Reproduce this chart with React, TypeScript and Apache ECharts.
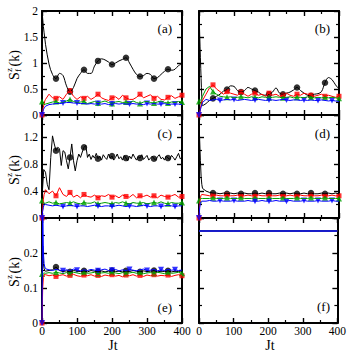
import React, { useEffect, useRef } from 'react';
import * as echarts from 'echarts';

const FONT = 'Liberation Serif, DejaVu Serif, serif';

// time samples
const T = [0, 2, 4, 6, 8, 10, 20, 30, 40, 50, 60, 70, 80, 90, 100, 110, 120, 130, 140, 150, 160, 170, 180, 190, 200, 210, 220, 230, 240, 250, 260, 270, 280, 290, 300, 310, 320, 330, 340, 350, 360, 370, 380, 390, 400];
const T5 = [0, 5, 10, 15, 20, 25, 30, 35, 40, 45, 50, 55, 60, 65, 70, 75, 80, 85, 90, 95, 100, 105, 110, 115, 120, 125, 130, 135, 140, 145, 150, 155, 160, 165, 170, 175, 180, 185, 190, 195, 200, 205, 210, 215, 220, 225, 230, 235, 240, 245, 250, 255, 260, 265, 270, 275, 280, 285, 290, 295, 300, 305, 310, 315, 320, 325, 330, 335, 340, 345, 350, 355, 360, 365, 370, 375, 380, 385, 390, 395, 400];
const TF = [0, 100, 200, 300, 400];

// tick labels
const xTicks = [0, 100, 200, 300, 400];

// marker times
const mkBlack = [40, 80, 120, 160, 200, 240, 280, 320, 360];
const mkRed = [0, 40, 80, 120, 160, 200, 240, 280, 320, 360, 400];
const mkGreen = [0, 40, 80, 120, 160, 200, 240, 280, 320, 360, 400];
const mkBlue = [0, 60, 100, 160, 200, 250, 300, 340, 380];

// panel (a)
const aBlack = [2.0, 1.85, 1.7, 1.58, 1.47, 1.36, 0.98, 0.78, 0.70, 0.80, 0.76, 0.56, 0.45, 0.53, 0.70, 0.80, 0.87, 0.80, 0.80, 0.94, 1.04, 1.08, 1.06, 1.02, 0.97, 1.00, 1.04, 1.07, 1.10, 1.00, 0.88, 0.78, 0.74, 0.76, 0.80, 0.78, 0.70, 0.72, 0.78, 0.84, 0.88, 0.86, 0.88, 0.95, 0.98];
const aRed = [0.0, 0.08, 0.15, 0.22, 0.27, 0.30, 0.40, 0.33, 0.32, 0.35, 0.30, 0.40, 0.47, 0.36, 0.30, 0.35, 0.32, 0.36, 0.30, 0.34, 0.40, 0.33, 0.30, 0.28, 0.33, 0.35, 0.30, 0.38, 0.33, 0.30, 0.30, 0.34, 0.40, 0.33, 0.36, 0.39, 0.32, 0.36, 0.30, 0.29, 0.34, 0.37, 0.32, 0.35, 0.38];
const aGreen = [0.26, 0.25, 0.22, 0.20, 0.20, 0.21, 0.23, 0.25, 0.26, 0.23, 0.24, 0.27, 0.30, 0.26, 0.24, 0.25, 0.26, 0.22, 0.24, 0.26, 0.23, 0.25, 0.27, 0.24, 0.22, 0.25, 0.26, 0.24, 0.25, 0.23, 0.27, 0.24, 0.22, 0.25, 0.26, 0.24, 0.23, 0.25, 0.27, 0.24, 0.23, 0.25, 0.24, 0.26, 0.25];
const aBlue = [0.0, 0.06, 0.10, 0.13, 0.15, 0.17, 0.20, 0.21, 0.22, 0.22, 0.23, 0.24, 0.24, 0.23, 0.23, 0.22, 0.22, 0.21, 0.22, 0.21, 0.22, 0.21, 0.22, 0.20, 0.21, 0.22, 0.21, 0.22, 0.21, 0.21, 0.22, 0.21, 0.21, 0.20, 0.22, 0.21, 0.22, 0.21, 0.21, 0.22, 0.20, 0.21, 0.21, 0.21, 0.20];

// panel (b)
const bBlack = [2.0, 1.55, 1.1, 0.7, 0.35, 0.18, 0.22, 0.28, 0.32, 0.36, 0.40, 0.46, 0.49, 0.56, 0.55, 0.47, 0.44, 0.47, 0.53, 0.50, 0.47, 0.44, 0.39, 0.38, 0.40, 0.44, 0.52, 0.42, 0.40, 0.42, 0.44, 0.48, 0.53, 0.47, 0.42, 0.38, 0.37, 0.40, 0.41, 0.45, 0.62, 0.72, 0.68, 0.58, 0.50];
const bRed = [0.0, 0.05, 0.12, 0.20, 0.25, 0.28, 0.40, 0.52, 0.58, 0.50, 0.45, 0.40, 0.45, 0.42, 0.40, 0.38, 0.44, 0.40, 0.36, 0.40, 0.42, 0.38, 0.40, 0.36, 0.42, 0.38, 0.40, 0.36, 0.38, 0.42, 0.38, 0.36, 0.40, 0.38, 0.42, 0.40, 0.38, 0.36, 0.38, 0.40, 0.36, 0.38, 0.36, 0.34, 0.36];
const bGreen = [0.26, 0.27, 0.28, 0.30, 0.33, 0.36, 0.50, 0.55, 0.45, 0.40, 0.36, 0.35, 0.34, 0.35, 0.33, 0.34, 0.35, 0.34, 0.33, 0.35, 0.34, 0.33, 0.35, 0.34, 0.33, 0.34, 0.35, 0.34, 0.33, 0.34, 0.35, 0.33, 0.34, 0.34, 0.33, 0.35, 0.34, 0.33, 0.34, 0.33, 0.34, 0.33, 0.34, 0.33, 0.32];
const bBlue = [0.0, 0.05, 0.10, 0.15, 0.20, 0.24, 0.30, 0.28, 0.29, 0.30, 0.28, 0.29, 0.30, 0.29, 0.30, 0.28, 0.29, 0.30, 0.29, 0.28, 0.29, 0.30, 0.29, 0.28, 0.29, 0.29, 0.28, 0.29, 0.30, 0.29, 0.28, 0.29, 0.29, 0.28, 0.29, 0.28, 0.29, 0.28, 0.28, 0.29, 0.28, 0.27, 0.28, 0.27, 0.26];

// panel (c)
const cBlack = [0.30, 0.72, 0.68, 0.50, 0.42, 0.90, 1.22, 1.10, 1.00, 1.05,
  1.03, 0.78, 1.00, 0.98, 0.85, 0.73, 0.90, 1.10, 0.85, 0.70,
  0.85, 0.95, 0.90, 0.98, 1.05, 1.08, 0.90, 0.95, 0.87, 0.93,
  0.89, 0.96, 0.88, 0.92, 0.86, 0.94, 0.90, 0.87, 0.95, 0.89,
  0.92, 0.86, 0.90, 0.95, 0.88, 0.91, 0.86, 0.93, 0.89, 0.85,
  0.92, 0.88, 0.95, 0.90, 0.86, 0.91, 0.89, 0.94, 0.87, 0.90,
  0.93, 0.86, 0.89, 0.92, 0.88, 0.86, 0.91, 0.94, 0.88, 0.90,
  0.86, 0.92, 0.89, 0.87, 0.93, 0.90, 0.86, 0.91, 0.96, 0.88, 0.90];
const cRed = [0.0, 0.15, 0.28, 0.35, 0.38, 0.42, 0.36, 0.40, 0.33, 0.45, 0.35, 0.32, 0.38, 0.31, 0.34, 0.30, 0.35, 0.32, 0.31, 0.34, 0.30, 0.33, 0.32, 0.35, 0.31, 0.33, 0.30, 0.34, 0.32, 0.31, 0.35, 0.30, 0.33, 0.32, 0.34, 0.31, 0.33, 0.30, 0.34, 0.32, 0.31, 0.33, 0.35, 0.31, 0.32];
const cGreen = [0.26, 0.24, 0.22, 0.21, 0.21, 0.22, 0.24, 0.22, 0.23, 0.21, 0.22, 0.23, 0.22, 0.24, 0.22, 0.21, 0.23, 0.22, 0.22, 0.24, 0.21, 0.22, 0.23, 0.22, 0.21, 0.23, 0.22, 0.24, 0.22, 0.21, 0.23, 0.22, 0.22, 0.23, 0.21, 0.22, 0.23, 0.22, 0.24, 0.22, 0.21, 0.23, 0.22, 0.22, 0.23];
const cBlue = [0.0, 0.10, 0.16, 0.20, 0.21, 0.20, 0.19, 0.18, 0.19, 0.18, 0.17, 0.18, 0.19, 0.18, 0.17, 0.18, 0.18, 0.17, 0.18, 0.19, 0.18, 0.17, 0.18, 0.18, 0.17, 0.18, 0.19, 0.18, 0.17, 0.18, 0.18, 0.17, 0.18, 0.19, 0.18, 0.17, 0.18, 0.18, 0.17, 0.18, 0.19, 0.18, 0.17, 0.18, 0.18];

// panel (d)
const dBlack = [1.48, 1.15, 0.85, 0.62, 0.50, 0.44, 0.40, 0.38, 0.37, 0.37, 0.36, 0.37, 0.36, 0.37, 0.36, 0.37, 0.36, 0.37, 0.36, 0.36, 0.37, 0.36, 0.37, 0.36, 0.37, 0.36, 0.36, 0.37, 0.36, 0.37, 0.36, 0.37, 0.36, 0.36, 0.37, 0.36, 0.37, 0.36, 0.36, 0.37, 0.36, 0.37, 0.36, 0.37, 0.36];
const dRed = [0.0, 0.20, 0.30, 0.34, 0.35, 0.35, 0.34, 0.33, 0.33, 0.34, 0.33, 0.33, 0.34, 0.33, 0.33, 0.34, 0.33, 0.33, 0.34, 0.33, 0.33, 0.34, 0.33, 0.33, 0.34, 0.33, 0.33, 0.34, 0.33, 0.33, 0.34, 0.33, 0.33, 0.34, 0.33, 0.33, 0.34, 0.33, 0.33, 0.34, 0.33, 0.33, 0.34, 0.33, 0.33];
const dGreen = [0.26, 0.27, 0.28, 0.29, 0.29, 0.29, 0.29, 0.29, 0.30, 0.29, 0.29, 0.29, 0.30, 0.29, 0.29, 0.29, 0.30, 0.29, 0.29, 0.29, 0.30, 0.29, 0.29, 0.29, 0.30, 0.29, 0.29, 0.29, 0.30, 0.29, 0.29, 0.29, 0.30, 0.29, 0.29, 0.29, 0.30, 0.29, 0.29, 0.29, 0.30, 0.29, 0.29, 0.29, 0.29];
const dBlue = [0.0, 0.15, 0.22, 0.24, 0.25, 0.25, 0.25, 0.26, 0.25, 0.25, 0.26, 0.25, 0.25, 0.25, 0.26, 0.25, 0.25, 0.25, 0.26, 0.25, 0.25, 0.25, 0.26, 0.25, 0.25, 0.25, 0.26, 0.25, 0.25, 0.25, 0.26, 0.25, 0.25, 0.25, 0.26, 0.25, 0.25, 0.25, 0.26, 0.25, 0.25, 0.25, 0.26, 0.25, 0.25];

// panel (e)
const eBlack = [0.0, 0.22, 0.17, 0.155, 0.15, 0.148, 0.150, 0.152, 0.160, 0.150, 0.147, 0.149, 0.146, 0.150, 0.148, 0.147, 0.149, 0.146, 0.150, 0.148, 0.147, 0.149, 0.146, 0.148, 0.150, 0.147, 0.148, 0.146, 0.149, 0.147, 0.150, 0.148, 0.146, 0.149, 0.147, 0.148, 0.150, 0.146, 0.148, 0.147, 0.149, 0.146, 0.148, 0.147, 0.149];
const eRed = [0.0, 0.10, 0.13, 0.135, 0.14, 0.138, 0.135, 0.137, 0.133, 0.136, 0.138, 0.134, 0.136, 0.139, 0.135, 0.133, 0.137, 0.135, 0.138, 0.134, 0.136, 0.133, 0.137, 0.135, 0.138, 0.134, 0.136, 0.132, 0.137, 0.135, 0.138, 0.134, 0.136, 0.133, 0.137, 0.135, 0.138, 0.134, 0.136, 0.135, 0.137, 0.133, 0.136, 0.138, 0.135];
const eGreen = [0.14, 0.14, 0.142, 0.143, 0.143, 0.142, 0.144, 0.142, 0.145, 0.143, 0.141, 0.144, 0.142, 0.145, 0.143, 0.141, 0.144, 0.142, 0.143, 0.145, 0.141, 0.143, 0.144, 0.142, 0.145, 0.143, 0.141, 0.144, 0.142, 0.143, 0.145, 0.142, 0.144, 0.141, 0.143, 0.144, 0.142, 0.145, 0.143, 0.141, 0.144, 0.142, 0.143, 0.145, 0.142];
const eBlue = [0.0, 0.35, 0.20, 0.17, 0.16, 0.155, 0.152, 0.150, 0.153, 0.151, 0.149, 0.152, 0.150, 0.154, 0.151, 0.149, 0.152, 0.150, 0.153, 0.151, 0.149, 0.152, 0.154, 0.150, 0.151, 0.153, 0.149, 0.152, 0.150, 0.153, 0.151, 0.149, 0.152, 0.154, 0.150, 0.151, 0.153, 0.149, 0.152, 0.150, 0.153, 0.151, 0.152, 0.150, 0.151];

// panel (f)
const fBlack = [0.263, 0.263, 0.263, 0.263, 0.263];
const fRed = [0.263, 0.263, 0.263, 0.263, 0.263];
const fGreen = [0.263, 0.263, 0.263, 0.263, 0.263];
const fBlue = [0.263, 0.263, 0.263, 0.263, 0.263];

const panelNames = ['(a)', '(b)', '(c)', '(d)', '(e)', '(f)'];

const BLACK = '#000000';
const RED = '#ff0000';
const GREEN = '#00a000';
const BLUE = '#0000ff';

const grids = [
  { left: 42, top: 11, width: 140, height: 104 },
  { left: 199, top: 11, width: 140, height: 104 },
  { left: 42, top: 115, width: 140, height: 103 },
  { left: 199, top: 115, width: 140, height: 103 },
  { left: 42, top: 218, width: 140, height: 105 },
  { left: 199, top: 218, width: 140, height: 105 },
];

const yRanges = [
  { max: 2, interval: 0.5, showMax: true },
  { max: 2, interval: 0.5, showMax: true },
  { max: 1.53, interval: 0.4, showMax: false },
  { max: 1.53, interval: 0.4, showMax: false },
  { max: 0.3, interval: 0.1, showMax: false },
  { max: 0.3, interval: 0.1, showMax: false },
];

const axisCommon = {
  axisLine: { show: true, onZero: false, lineStyle: { color: '#000', width: 2 } },
  axisTick: { show: true, inside: true, length: 5, lineStyle: { color: '#000', width: 1.4 } },
  minorTick: { show: true, splitNumber: 2, length: 3, lineStyle: { color: '#000', width: 1.2 } },
  splitLine: { show: false },
  minorSplitLine: { show: false },
};

function buildOption() {
  const xAxis: any[] = [];
  const yAxis: any[] = [];
  grids.forEach((g, i) => {
    const showX = i >= 4;
    const showY = i % 2 === 0;
    ['bottom', 'top'].forEach((pos, k) => {
      xAxis.push({
        type: 'value', gridIndex: i, position: pos, min: xTicks[0], max: xTicks[xTicks.length - 1], interval: 100,
        ...axisCommon,
        axisLabel: { show: showX && k === 0, color: '#000', fontFamily: FONT, fontSize: 11.5, margin: 2, lineHeight: 12 },
      });
    });
    ['left', 'right'].forEach((pos, k) => {
      const r = yRanges[i];
      yAxis.push({
        type: 'value', gridIndex: i, position: pos, min: 0, max: r.max, interval: r.interval,
        ...axisCommon,
        axisLabel: { show: showY && k === 0, color: '#000', fontFamily: FONT, fontSize: 11.5, margin: 4, showMaxLabel: r.showMax, showMinLabel: true },
      });
    });
  });

  const series: any[] = [];
  const line = (gi: number, ts: number[], vs: number[], color: string, smooth: any) => ({
    type: 'line', xAxisIndex: gi * 2, yAxisIndex: gi * 2,
    data: ts.map((t, k) => [t, vs[k]]),
    symbol: 'none', smooth, lineStyle: { color, width: 1 }, itemStyle: { color },
    silent: true, clip: true,
  });
  const marks = (gi: number, ts: number[], vs: number[], mk: number[], color: string, symbol: string, size: number, rotate = 0) => ({
    type: 'scatter', xAxisIndex: gi * 2, yAxisIndex: gi * 2,
    data: mk.filter((m) => ts.indexOf(m) >= 0).map((m) => [m, vs[ts.indexOf(m)]]),
    symbol, symbolSize: size, symbolRotate: rotate, itemStyle: { color }, silent: true, clip: false,
  });

  const panels = [
    { tb: T, black: aBlack, red: aRed, green: aGreen, blue: aBlue, smooth: 0.35 },
    { tb: T, black: bBlack, red: bRed, green: bGreen, blue: bBlue, smooth: 0.35 },
    { tb: T5, black: cBlack, red: cRed, green: cGreen, blue: cBlue, smooth: false },
    { tb: T, black: dBlack, red: dRed, green: dGreen, blue: dBlue, smooth: false },
    { tb: T, black: eBlack, red: eRed, green: eGreen, blue: eBlue, smooth: false },
  ];
  panels.forEach((p, gi) => {
    series.push(line(gi, p.tb, p.black, BLACK, p.smooth));
    series.push(marks(gi, p.tb, p.black, mkBlack, BLACK, 'circle', 6.5));
    series.push(line(gi, T, p.red, RED, false));
    series.push(marks(gi, T, p.red, mkRed, RED, 'rect', 5));
    series.push(line(gi, T, p.green, GREEN, false));
    series.push(marks(gi, T, p.green, mkGreen, GREEN, 'triangle', 6));
    series.push(line(gi, T, p.blue, BLUE, false));
    series.push(marks(gi, T, p.blue, mkBlue, BLUE, 'triangle', 6, 180));
  });
  // panel (f): flat lines only
  series.push(line(5, TF, fBlack, BLACK, false));
  series.push(line(5, TF, fRed, RED, false));
  series.push(line(5, TF, fGreen, GREEN, false));
  const fb = line(5, TF, fBlue, BLUE, false);
  fb.lineStyle.width = 1.6;
  series.push(fb);

  const txt = (text: string, x: number, y: number, size: number, align = 'center') => ({
    type: 'text', x, y, silent: true,
    style: { text, fill: '#000', fontSize: size, fontFamily: FONT, textAlign: align, textVerticalAlign: 'middle', align, verticalAlign: 'middle' },
  });

  const labelPos = [[172, 28], [330, 28], [172, 133], [330, 133], [172, 307], [330, 306]];
  const graphic: any[] = panelNames.map((n, i) => txt(n, labelPos[i][0], labelPos[i][1], 13, 'right'));
  graphic.push(txt('Jt', 113, 345.5, 14));
  graphic.push(txt('Jt', 270, 345.5, 14));
  [63, 168, 270].forEach((cy) => {
    graphic.push({
      type: 'group', x: 14, y: cy, rotation: Math.PI / 2, silent: true,
      children: [
        txt('S', -17, 0, 14, 'left'),
        txt('z', -9, -5, 9, 'left'),
        txt('f', -9, 3.5, 9, 'left'),
        txt('(k)', -3.5, 0, 14, 'left'),
      ],
    });
  });

  return {
    animation: false,
    backgroundColor: '#ffffff',
    grid: grids.map((g) => ({ ...g, containLabel: false })),
    xAxis,
    yAxis,
    series,
    graphic,
  };
}

export default function App() {
  const ref = useRef<HTMLDivElement>(null);
  useEffect(() => {
    document.body.style.margin = '0';
    const chart = echarts.init(ref.current as HTMLDivElement, null, { renderer: 'svg' });
    chart.setOption(buildOption() as any);
    return () => chart.dispose();
  }, []);
  return <div ref={ref} style={{ width: 349, height: 358 }} />;
}
